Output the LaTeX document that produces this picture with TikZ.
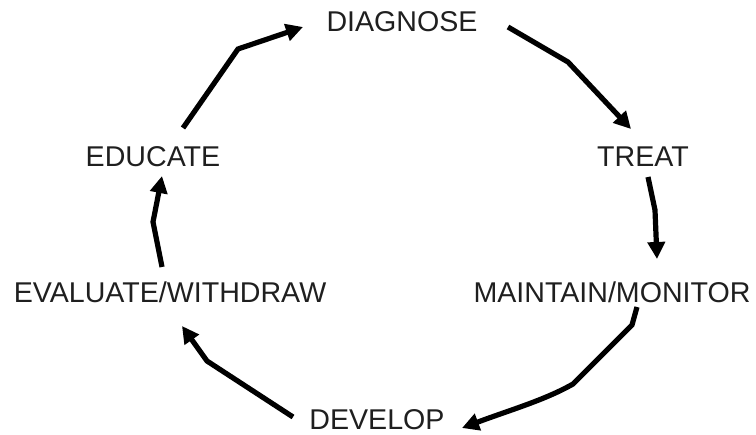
\documentclass[tikz,border=0pt]{standalone}
\usepackage{fontspec}
\setmainfont{Liberation Sans}
\usetikzlibrary{arrows.meta}
\begin{document}
\begin{tikzpicture}[x=1pt,y=-1pt,
  lbl/.style={inner sep=0pt,font=\fontsize{28.6}{33}\selectfont,text=black!88},
  flow/.style={line width=5.2pt,line join=miter,-{Triangle[length=17pt,width=17pt]}}]
\useasboundingbox (0,0) rectangle (756,435);
\node[lbl] (diag) at (402,22) {DIAGNOSE};
\node[lbl] (treat) at (643,157) {TREAT};
\node[lbl] (maint) at (612,292) {MAINTAIN/MONITOR};
\node[lbl] (dev) at (377,420) {DEVELOP};
\node[lbl] (eval) at (170,292) {EVALUATE/WITHDRAW};
\node[lbl] (edu) at (153,157) {EDUCATE};
% connector end points
\coordinate (a1) at (183,128); \coordinate (a2) at (303,27);
\coordinate (b1) at (508,27);  \coordinate (b2) at (631,129);
\coordinate (c1) at (648,177); \coordinate (c2) at (657,259);
\coordinate (d1) at (637,307); \coordinate (d2) at (462,428);
\coordinate (e1) at (293,417); \coordinate (e2) at (182,326);
\coordinate (f1) at (162,267); \coordinate (f2) at (162,176);
\draw[flow] (a1) -- (238,49) -- (a2);
\draw[flow] (b1) -- (568,62) -- (b2);
\draw[flow] (c1) -- (655,210) -- (c2);
\draw[flow] (d1) -- (632,325) -- (573,384) .. controls (545,400) and (510,410) .. (d2);
\draw[flow] (e1) -- (207,361) -- (e2);
\draw[flow] (f1) -- (153,222) -- (f2);
\end{tikzpicture}
\end{document}
